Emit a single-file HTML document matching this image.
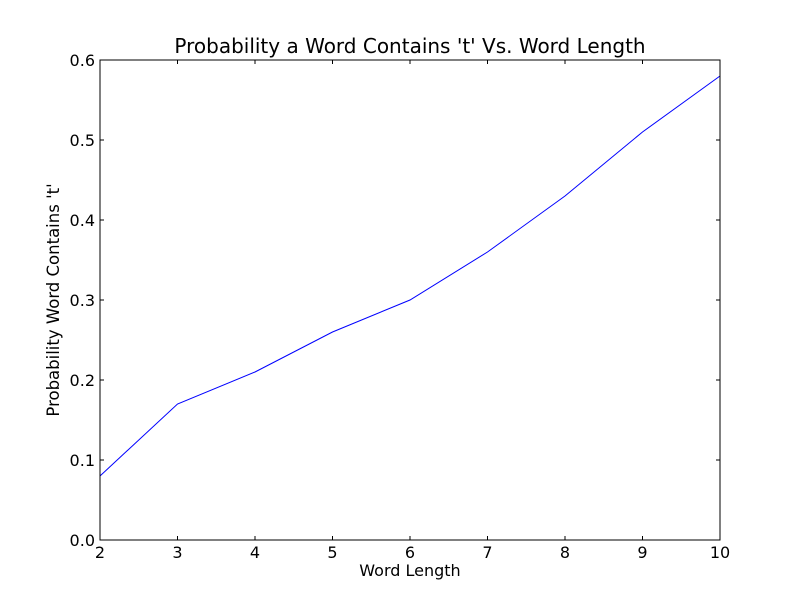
<!DOCTYPE html>
<html><head><meta charset="utf-8"><style>
html,body{margin:0;padding:0;background:#fff;}
svg{display:block;font-family:"DejaVu Sans","Liberation Sans",sans-serif;}
</style></head><body>
<svg id="chart" width="800" height="600">
<rect width="800" height="600" fill="#fff"/>
<text x="410" y="53" text-anchor="middle" font-size="20">Probability a Word Contains 't' Vs. Word Length</text>
<text x="410" y="576" text-anchor="middle" font-size="16">Word Length</text>
<text transform="translate(59,300) rotate(-90)" text-anchor="middle" font-size="16.5">Probability Word Contains 't'</text>
<g id="ticks"></g>
<polyline id="line" fill="none" stroke="#0000ff" stroke-width="1"/>
<rect x="100" y="60" width="620" height="480" fill="none" stroke="#000" stroke-width="1"/>
</svg>
<script>
const wordLengths = [2,3,4,5,6,7,8,9,10];
const probabilities = [0.08,0.17,0.21,0.26,0.30,0.36,0.43,0.51,0.58];
const xTicks = [2,3,4,5,6,7,8,9,10];
const yTicks = ["0.0","0.1","0.2","0.3","0.4","0.5","0.6"];
const L=100,R=720,T=60,B=540;
const xs=v=>L+(v-2)/(10-2)*(R-L);
const ys=v=>B-(v-0)/(0.6)*(B-T);
const NS="http://www.w3.org/2000/svg";
const g=document.getElementById('ticks');
function mk(tag,attrs){const e=document.createElementNS(NS,tag);for(const k in attrs)e.setAttribute(k,attrs[k]);return e;}
xTicks.forEach(v=>{
  const x=xs(v);
  const t1=mk('line',{x1:x,x2:x,y1:B,y2:B-4,stroke:'#000'});
  
  
  g.appendChild(t1);
  const t2=mk('line',{x1:x,x2:x,y1:T,y2:T+4,stroke:'#000'});
  
  
  g.appendChild(t2);
  const lb=mk('text',{x:x,y:B+18,'text-anchor':'middle','font-size':16});
  lb.textContent=v;
  
  
  g.appendChild(lb);
});
yTicks.forEach(s=>{
  const y=ys(parseFloat(s));
  const t1=mk('line',{x1:L,x2:L+4,y1:y,y2:y,stroke:'#000'});
  
  
  g.appendChild(t1);
  const t2=mk('line',{x1:R,x2:R-4,y1:y,y2:y,stroke:'#000'});
  
  
  g.appendChild(t2);
  const lb=mk('text',{x:L-5,y:y+6,'text-anchor':'end','font-size':16});
  lb.textContent=s;
  
  
  g.appendChild(lb);
});
document.getElementById('line').setAttribute('points',wordLengths.map((v,i)=>xs(v)+','+ys(probabilities[i])).join(' '));
</script>
</body></html>
